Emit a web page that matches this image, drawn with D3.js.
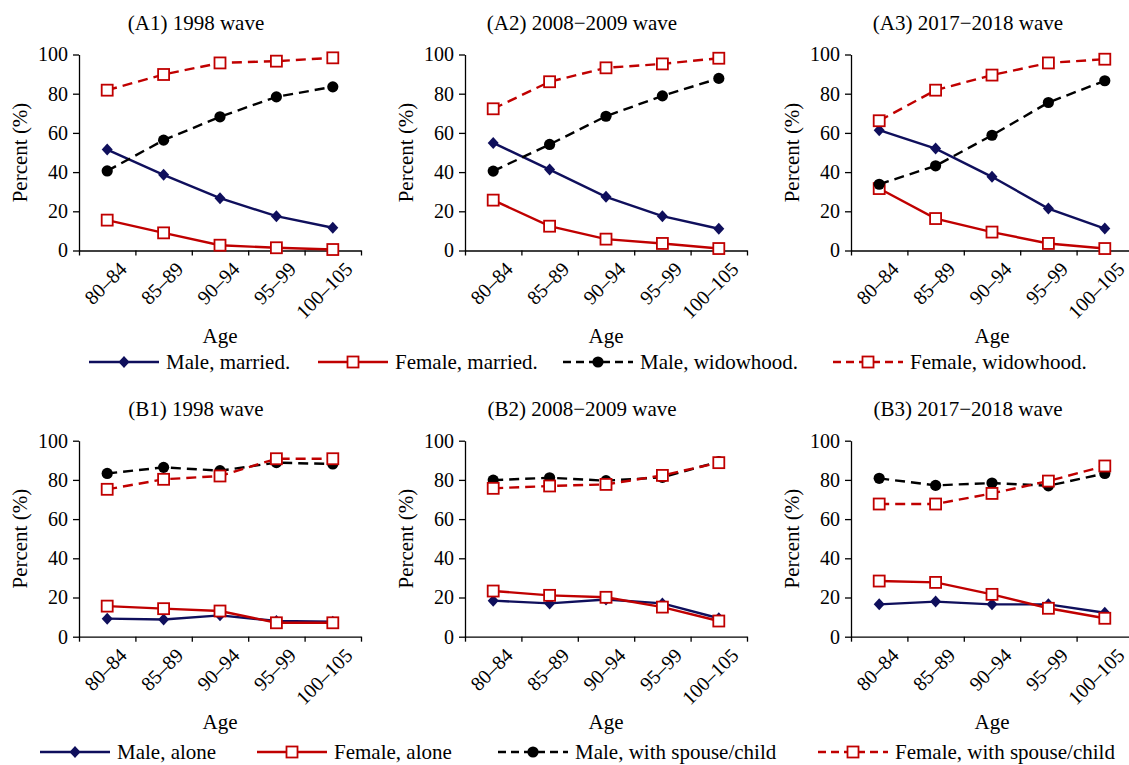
<!DOCTYPE html>
<html lang="en">
<head>
<meta charset="UTF-8">
<title>Living arrangements by age</title>
<script src="https://d3js.org/d3.v7.min.js"></script>
<style>
    body { margin: 0; background: #ffffff; }
    svg { display: block; font-family: "Liberation Serif", "Times New Roman", serif; }
    .axis path, .axis line { stroke: #000; stroke-width: 1.3; }
    .axis text { fill: #000; font-size: 20px; font-family: "Liberation Serif", serif; }
</style>
</head>
<body>
<script>
    // categories and labels
    const ageGroups = ["80–84", "85–89", "90–94", "95–99", "100–105"];
    const yTicks = [0, 20, 40, 60, 80, 100];
    const waves = ["1998 wave", "2008−2009 wave", "2017−2018 wave"];

    // panel A: marital status (one row per wave)
    const maleMarried = [
        [51.5, 38.6, 26.7, 17.5, 11.6],
        [54.9, 41.3, 27.4, 17.5, 11.1],
        [61.4, 52.0, 37.6, 21.4, 11.2]
    ];
    const femaleMarried = [
        [15.5, 9.0, 2.7, 1.4, 0.5],
        [25.7, 12.4, 5.8, 3.6, 1.0],
        [31.6, 16.3, 9.4, 3.6, 1.0]
    ];
    const maleWidowhood = [
        [40.6, 56.3, 68.2, 78.4, 83.5],
        [40.5, 54.1, 68.5, 78.9, 87.8],
        [33.8, 43.2, 58.8, 75.5, 86.6]
    ];
    const femaleWidowhood = [
        [81.8, 89.8, 95.7, 96.6, 98.3],
        [72.3, 86.1, 93.2, 95.2, 98.1],
        [66.2, 81.8, 89.5, 95.7, 97.6]
    ];

    // panel B: living arrangement (one row per wave)
    const maleAlone = [
        [9.2, 8.8, 10.9, 8.0, 7.6],
        [18.4, 17.0, 19.0, 17.0, 9.4],
        [16.5, 17.9, 16.5, 16.5, 12.2]
    ];
    const femaleAlone = [
        [15.6, 14.3, 13.1, 7.1, 7.1],
        [23.3, 21.1, 20.1, 15.1, 8.0],
        [28.4, 27.7, 21.6, 14.5, 9.4]
    ];
    const maleWithFamily = [
        [83.3, 86.4, 84.7, 88.8, 88.1],
        [79.9, 81.1, 79.6, 81.3, 89.3],
        [80.8, 77.2, 78.4, 77.0, 83.3]
    ];
    const femaleWithFamily = [
        [75.2, 80.3, 82.0, 90.8, 90.8],
        [75.7, 76.9, 77.7, 82.3, 88.8],
        [67.7, 67.7, 73.1, 79.4, 87.1]
    ];

    const NAVY = "#0f0f5c";
    const RED = "#c00000";
    const DASH = "10,6";

    const rows = [
        {
            letter: "A",
            top: 54.5, bottom: 250.5,
            titleY: 30, ageY: 343, legendY: 362,
            legendX: [89, 318, 563, 833],
            series: [
                {name: "Male, married.", data: maleMarried, color: NAVY, dash: null, marker: "diamond"},
                {name: "Female, married.", data: femaleMarried, color: RED, dash: null, marker: "square"},
                {name: "Male, widowhood.", data: maleWidowhood, color: "#000", dash: DASH, marker: "circle"},
                {name: "Female, widowhood.", data: femaleWidowhood, color: RED, dash: DASH, marker: "square"}
            ]
        },
        {
            letter: "B",
            top: 440.7, bottom: 636.7,
            titleY: 416, ageY: 729, legendY: 752,
            legendX: [40, 257, 498, 818],
            series: [
                {name: "Male, alone", data: maleAlone, color: NAVY, dash: null, marker: "diamond"},
                {name: "Female, alone", data: femaleAlone, color: RED, dash: null, marker: "square"},
                {name: "Male, with spouse/child", data: maleWithFamily, color: "#000", dash: DASH, marker: "circle"},
                {name: "Female, with spouse/child", data: femaleWithFamily, color: RED, dash: DASH, marker: "square"}
            ]
        }
    ];

    const colX = [79, 465, 851];
    const plotW = 282;

    const svg = d3.select("body").append("svg")
        .attr("width", 1129)
        .attr("height", 765);

    function drawMarker(g, type, x, y, color) {
        if (type === "diamond") {
            g.append("path")
                .attr("d", `M${x},${y - 6}L${x + 5.5},${y}L${x},${y + 6}L${x - 5.5},${y}Z`)
                .attr("fill", color);
        } else if (type === "square") {
            g.append("rect")
                .attr("x", x - 5.5).attr("y", y - 5.5)
                .attr("width", 11).attr("height", 11)
                .attr("fill", "#fff")
                .attr("stroke", color)
                .attr("stroke-width", 1.8);
        } else {
            g.append("circle")
                .attr("cx", x).attr("cy", y).attr("r", 5.6)
                .attr("fill", color);
        }
    }

    rows.forEach(row => {
        waves.forEach((wave, w) => {
            const x0 = colX[w];
            const g = svg.append("g");

            const x = d3.scaleBand().domain(ageGroups).range([x0, x0 + plotW]);
            const xEdge = d3.scaleLinear().domain([0, ageGroups.length]).range([x0, x0 + plotW]);
            const y = d3.scaleLinear().domain([0, 100]).range([row.bottom, row.top]);

            // y axis
            g.append("g")
                .attr("class", "axis")
                .attr("transform", `translate(${x0},0)`)
                .call(d3.axisLeft(y).tickValues(yTicks).tickSize(6).tickPadding(5).tickSizeOuter(0));

            // x axis: ticks on band edges, labels at band centres
            g.append("g")
                .attr("class", "axis")
                .attr("transform", `translate(0,${row.bottom})`)
                .call(d3.axisBottom(xEdge).tickValues(d3.range(ageGroups.length + 1)).tickFormat("").tickSize(5).tickSizeOuter(0));

            g.append("g")
                .selectAll("text")
                .data(ageGroups)
                .join("text")
                .attr("transform", d => `translate(${x(d) + x.bandwidth() / 2 + 11},${row.bottom + 10}) rotate(-45)`)
                .attr("text-anchor", "end")
                .attr("dy", "0.7em")
                .attr("font-size", 20)
                .text(d => d);

            // title, axis titles
            g.append("text")
                .attr("x", x0 + 117)
                .attr("y", row.titleY)
                .attr("text-anchor", "middle")
                .attr("font-size", 21)
                .text(`(${row.letter}${w + 1}) ${wave}`);

            g.append("text")
                .attr("x", x0 + plotW / 2)
                .attr("y", row.ageY)
                .attr("text-anchor", "middle")
                .attr("font-size", 21)
                .text("Age");

            g.append("text")
                .attr("transform", `translate(${x0 - 52},${(row.top + row.bottom) / 2}) rotate(-90)`)
                .attr("text-anchor", "middle")
                .attr("font-size", 21)
                .text("Percent (%)");

            // series
            const line = d3.line()
                .x((d, i) => x(ageGroups[i]) + x.bandwidth() / 2)
                .y(d => y(d));

            row.series.forEach(s => {
                const vals = s.data[w];
                g.append("path")
                    .attr("d", line(vals))
                    .attr("fill", "none")
                    .attr("stroke", s.color)
                    .attr("stroke-width", 2.4)
                    .attr("stroke-dasharray", s.dash);
                vals.forEach((v, i) => {
                    drawMarker(g, s.marker, x(ageGroups[i]) + x.bandwidth() / 2, y(v), s.color);
                });
            });
        });

        // legend
        const lg = svg.append("g");
        row.series.forEach((s, i) => {
            const lx = row.legendX[i];
            lg.append("line")
                .attr("x1", lx).attr("x2", lx + 70)
                .attr("y1", row.legendY).attr("y2", row.legendY)
                .attr("stroke", s.color)
                .attr("stroke-width", 2.4)
                .attr("stroke-dasharray", s.dash ? "8,5" : null);
            drawMarker(lg, s.marker, lx + 35, row.legendY, s.color);
            lg.append("text")
                .attr("x", lx + 77)
                .attr("y", row.legendY + 7)
                .attr("font-size", 21)
                .text(s.name);
        });
    });
</script>
</body>
</html>
